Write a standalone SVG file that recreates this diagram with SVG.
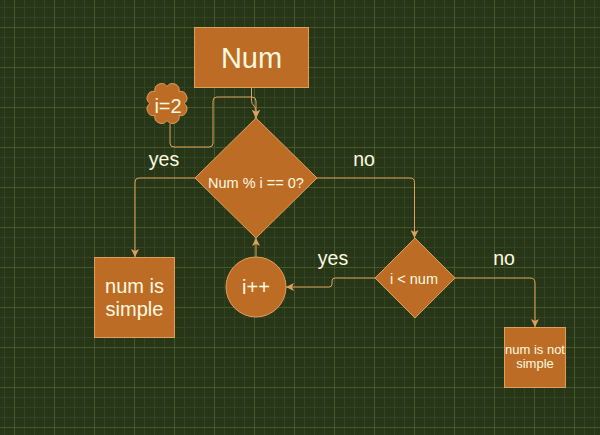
<svg xmlns="http://www.w3.org/2000/svg" width="600" height="435" viewBox="0 0 600 435">
<style>
.node{fill:#BC6C25;stroke:#DDA15E;stroke-width:1}
.t{font-family:"Liberation Sans",Arial,sans-serif;fill:#FEFAE0;text-anchor:middle}
.edge{fill:none;stroke:#DDA15E;stroke-width:1}
.lbl{font-family:"Liberation Sans",Arial,sans-serif;fill:#FEFAE0;text-anchor:middle;font-size:19.5px}
</style>
<defs>
<pattern id="grid" patternUnits="userSpaceOnUse" x="14" y="27" width="40" height="40">
<rect x="10" y="0" width="1" height="40" fill="#324424"/>
<rect x="20" y="0" width="1" height="40" fill="#324424"/>
<rect x="30" y="0" width="1" height="40" fill="#324424"/>
<rect x="0" y="10" width="40" height="1" fill="#324424"/>
<rect x="0" y="20" width="40" height="1" fill="#324424"/>
<rect x="0" y="30" width="40" height="1" fill="#324424"/>
<rect x="0" y="0" width="1" height="40" fill="#45592c"/>
<rect x="0" y="0" width="40" height="1" fill="#45592c"/>
</pattern>
<marker id="arr" markerUnits="userSpaceOnUse" markerWidth="10" markerHeight="8" refX="8" refY="4" orient="auto">
<path d="M0,0 L8,4 L0,8 L2,4 Z" fill="#DDA15E"/>
</marker>
</defs>
<rect width="600" height="435" fill="#283618"/>
<rect width="600" height="435" fill="url(#grid)"/>

<g id="connectors">
<path class="edge" d="M251.5 88 V100 Q251.5 104 254 106 Q256 107.5 256 111 V118" marker-end="url(#arr)"/>
<path class="edge" d="M170 124 V143 Q170 147 174 147 H209 Q213 147 213 143 V101 Q213 97 217 97 H252 Q256 97 256 101 V118" marker-end="url(#arr)"/>
<path class="edge" d="M196 178 H139 Q135 178 135 182 V257" marker-end="url(#arr)"/>
<path class="edge" d="M316 178 H410 Q414.5 178 414.5 182.5 V238" marker-end="url(#arr)"/>
<path class="edge" d="M256 257 V238" marker-end="url(#arr)"/>
<path class="edge" d="M375 278 H335 Q332 278 332 281 V284 Q332 287 329 287 H286" marker-end="url(#arr)"/>
<path class="edge" d="M455 278 H530 Q535 278 535 283 V327" marker-end="url(#arr)"/>
<text class="lbl" x="164" y="166">yes</text>
<text class="lbl" x="364" y="166">no</text>
<text class="lbl" x="333" y="265">yes</text>
<text class="lbl" x="504" y="264.5">no</text>
</g>

<g id="num">
<rect class="node" x="194.5" y="27.5" width="114" height="60"/>
<text class="t" x="251.5" y="67.5" font-size="29">Num</text>
</g>

<g id="init">
<path class="node" d="M184 103.5 A6.64 6.64 0 0 1 179.02 115.52 A6.64 6.64 0 0 1 167 120.5 A6.64 6.64 0 0 1 154.98 115.52 A6.64 6.64 0 0 1 150 103.5 A6.64 6.64 0 0 1 154.98 91.48 A6.64 6.64 0 0 1 167 86.5 A6.64 6.64 0 0 1 179.02 91.48 A6.64 6.64 0 0 1 184 103.5 Z"/>
<text class="t" x="168" y="113" font-size="20">i=2</text>
</g>

<g id="check">
<polygon class="node" points="256,118 317,178 256,238 195,178"/>
<text class="t" x="256" y="187.5" font-size="14.5">Num % i == 0?</text>
</g>

<g id="simple">
<rect class="node" x="94.5" y="257.5" width="80" height="80"/>
<text class="t" x="134.5" y="292.5" font-size="20">num is</text>
<text class="t" x="134.5" y="316" font-size="20">simple</text>
</g>

<g id="inc">
<circle class="node" cx="256" cy="287" r="30"/>
<text class="t" x="256" y="294" font-size="20">i++</text>
</g>

<g id="less">
<polygon class="node" points="415,238 455,278 415,318 375,278"/>
<text class="t" x="414" y="284" font-size="14.5">i &lt; num</text>
</g>

<g id="notsimple">
<rect class="node" x="504.5" y="327.5" width="61" height="60"/>
<text class="t" x="535" y="354" font-size="13">num is not</text>
<text class="t" x="535" y="368" font-size="13">simple</text>
</g>
</svg>
